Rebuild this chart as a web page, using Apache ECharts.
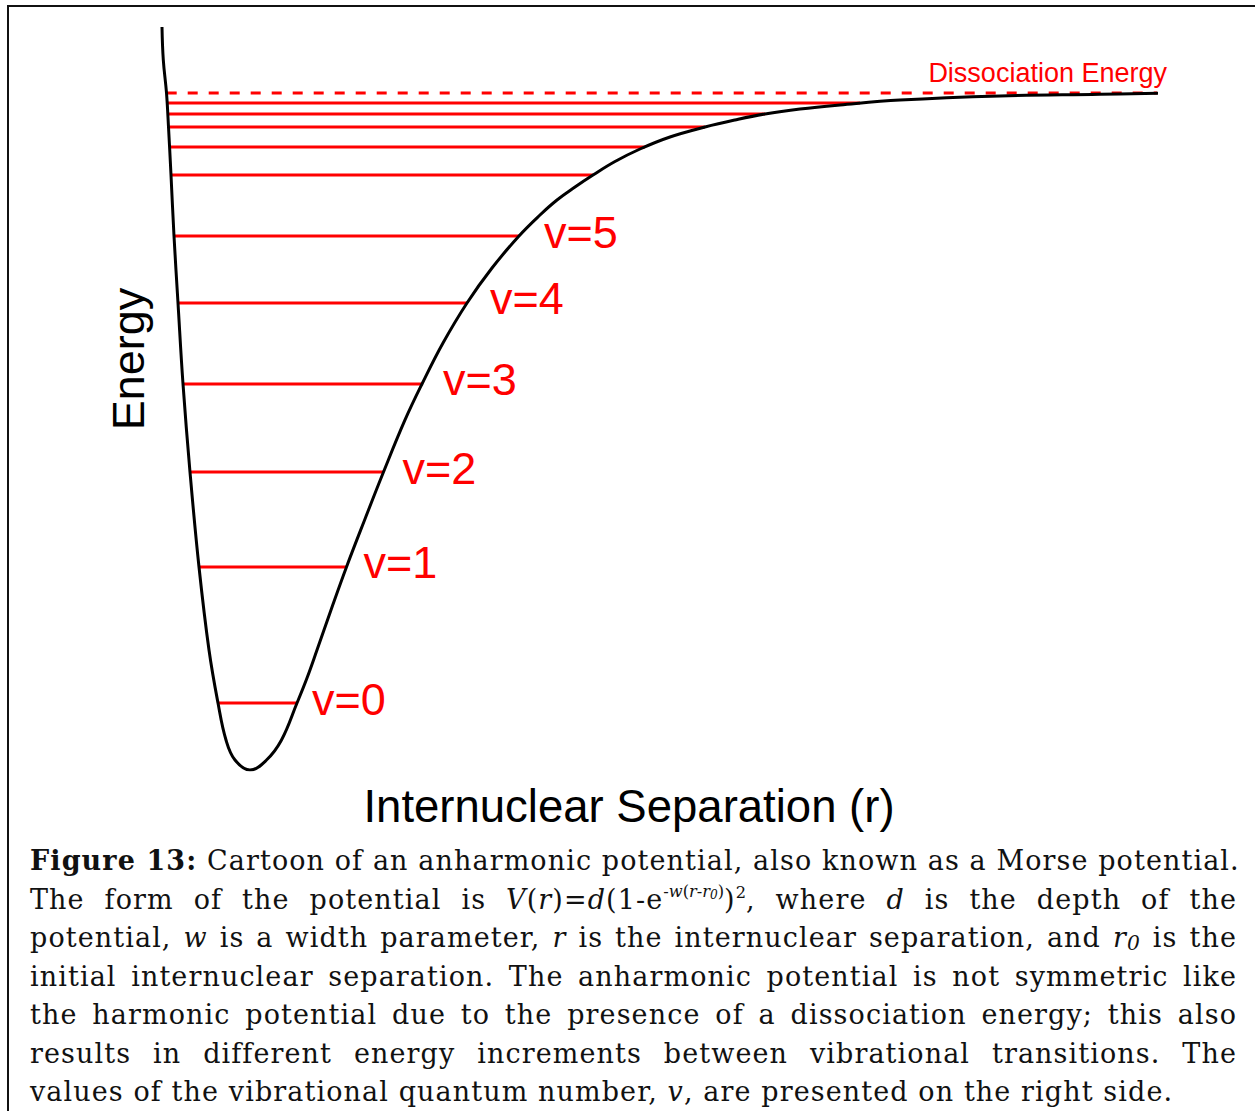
<!DOCTYPE html>
<html>
<head>
<meta charset="utf-8">
<script src="https://cdn.jsdelivr.net/npm/echarts@6/dist/echarts.min.js"></script>
<style>
  html, body { margin: 0; padding: 0; background: #fff; }
  #frame { position: absolute; left: 7px; top: 5px; width: 1300px; height: 1200px;
           border-left: 2px solid #111; border-top: 2px solid #111; }
  #main { position: absolute; left: 0; top: 0; width: 1255px; height: 1111px; }
  #cap { position: absolute; left: 30px; top: 842px; width: 1207px;
         font-family: "DejaVu Serif", serif; font-size: 27px; letter-spacing: 1.1px;
         line-height: 38.5px; color: #111; }
  #cap .ln { text-align: justify; text-align-last: justify; white-space: nowrap; }
  #cap .ln.last { text-align-last: left; }
  #cap sup { font-size: 0.6em; line-height: 0; vertical-align: 0.7em; letter-spacing: 0; }
  #cap sub { font-size: 0.75em; line-height: 0; vertical-align: -0.15em; }
</style>
</head>
<body>
<div id="frame"></div>
<div id="main"></div>
<div id="cap">
  <div class="ln"><b>Figure 13:</b> Cartoon of an anharmonic potential, also known as a Morse potential.</div>
  <div class="ln">The form of the potential is <i>V</i>(<i>r</i>)=<i>d</i>(1-e<sup>-<i>w</i>(<i>r</i>-<i>r</i><sub><i>0</i></sub>)</sup>)<sup>2</sup>, where <i>d</i> is the depth of the</div>
  <div class="ln">potential, <i>w</i> is a width parameter, <i>r</i> is the internuclear separation, and <i>r<sub>0</sub></i> is the</div>
  <div class="ln">initial internuclear separation. The anharmonic potential is not symmetric like</div>
  <div class="ln">the harmonic potential due to the presence of a dissociation energy; this also</div>
  <div class="ln">results in different energy increments between vibrational transitions. The</div>
  <div class="ln last">values of the vibrational quantum number, <i>v</i>, are presented on the right side.</div>
</div>
<script>
// Morse curve (r and energy in arbitrary units 0-100)
var curveR = [0.2, 0.33, 0.65, 0.85, 1.1, 1.4, 1.8, 2.3, 3.0, 3.9, 4.9, 5.8, 6.6, 7.5, 9.0,
              10.65, 12.15, 13.7, 14.7, 15.7, 17.1, 18.65, 20.5, 22.35, 24.5, 26.2, 28.3, 30.7,
              33.2, 35.9, 38.0, 39.7, 41.5, 43.3, 45.5, 48.0, 51.0, 54.5, 57.5, 60.5, 64.0,
              68.0, 74.0, 84.0, 94.0, 99.8];
var curveE = [99.07, 94.67, 90.27, 85.73, 79.33, 71.2, 62.27, 51.47, 39.73, 27.07, 16.0, 8.93, 4.0, 1.33, 0,
              1.33, 4.0, 8.93, 12.27, 16.0, 21.33, 27.07, 33.47, 39.73, 46.67, 51.47, 56.93, 62.27,
              66.93, 71.2, 74.0, 76.0, 77.73, 79.33, 81.13, 82.8, 84.4, 85.73, 86.67, 87.47, 88.13,
              88.67, 89.33, 89.87, 90.09, 90.23];

// vibrational levels
var levelE     = [8.93, 27.07, 39.73, 51.47, 62.27, 71.2, 79.33, 83.07, 85.73, 87.47, 88.93];
var levelLeft  = [5.83, 3.9, 3.0, 2.33, 1.83, 1.43, 1.1, 1.0, 0.93, 0.83, 0.77];
var levelRight = [13.7, 18.65, 22.35, 26.2, 30.7, 35.9, 43.3, 48.5, 54.5, 60.5, 70.0];
var levelNames = ['v=0', 'v=1', 'v=2', 'v=3', 'v=4', 'v=5', '', '', '', '', ''];

// dissociation limit
var dissE = 90.27;
var dissRange = [0.67, 99.7];
var dissName = 'Dissociation Energy';

var chart = echarts.init(document.getElementById('main'), null, {renderer: 'svg'});

var curveData = curveR.map(function (r, i) { return [r, curveE[i]]; });

var series = [];
levelE.forEach(function (e, i) {
    series.push({
        type: 'line',
        silent: true,
        symbol: 'none',
        lineStyle: {color: '#ff0000', width: 3},
        data: [[levelLeft[i], e], [levelRight[i], e]],
        endLabel: {
            show: levelNames[i] !== '',
            distance: 15 + 2 * i,
            offset: [0, -4],
            formatter: levelNames[i],
            color: '#ff0000',
            fontFamily: 'Liberation Sans',
            fontSize: 45
        },
        z: 2
    });
});

series.push({
    type: 'line',
    silent: true,
    symbol: 'none',
    lineStyle: {color: '#ff0000', width: 3, type: [10, 11]},
    data: [[dissRange[0], dissE], [dissRange[1], dissE]],
    endLabel: {
        show: true,
        distance: 0,
        align: 'right',
        verticalAlign: 'bottom',
        offset: [10, -6],
        formatter: dissName,
        color: '#ff0000',
        fontFamily: 'Liberation Sans',
        fontSize: 27
    },
    z: 2
});

series.push({
    type: 'line',
    silent: true,
    symbol: 'none',
    smooth: 0.4,
    lineStyle: {color: '#000', width: 3},
    data: curveData,
    z: 3
});

chart.setOption({
    animation: false,
    grid: {left: 160, right: 95, top: 20, bottom: 341},
    xAxis: {type: 'value', min: 0, max: 100, show: false},
    yAxis: {type: 'value', min: 0, max: 100, show: false},
    graphic: [
        {
            type: 'text',
            x: 128, y: 359,
            rotation: Math.PI / 2,
            style: {text: 'Energy', font: '45px "Liberation Sans"', fill: '#000',
                    textAlign: 'center', textVerticalAlign: 'middle'}
        },
        {
            type: 'text',
            x: 629, y: 806,
            style: {text: 'Internuclear Separation (r)', font: '45.5px "Liberation Sans"', fill: '#000',
                    textAlign: 'center', textVerticalAlign: 'middle'}
        }
    ],
    series: series
});
</script>
</body>
</html>
